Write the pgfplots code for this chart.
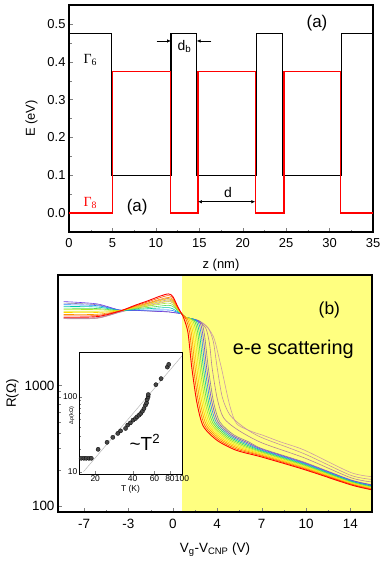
\documentclass[border=0pt]{standalone}
\usepackage{pgfplots}
\pgfplotsset{compat=1.18}
\usepackage{fontspec}
\setmainfont{Liberation Sans}
\newfontfamily\greekserif{Liberation Serif}
\usetikzlibrary{arrows.meta}
\definecolor{c0}{RGB}{255,0,0}
\definecolor{c1}{RGB}{255,80,0}
\definecolor{c2}{RGB}{255,150,0}
\definecolor{c3}{RGB}{255,210,0}
\definecolor{c4}{RGB}{235,235,30}
\definecolor{c5}{RGB}{170,230,40}
\definecolor{c6}{RGB}{80,220,80}
\definecolor{c7}{RGB}{0,200,170}
\definecolor{c8}{RGB}{30,130,255}
\definecolor{c9}{RGB}{110,60,230}
\definecolor{c10}{RGB}{140,120,160}
\definecolor{c11}{RGB}{180,130,150}
\definecolor{c12}{RGB}{195,145,160}
\definecolor{c13}{RGB}{205,155,165}
\definecolor{yel}{RGB}{255,255,128}
\begin{document}
\begin{tikzpicture}
\path[use as bounding box] (0,0) rectangle (386bp,-564bp);
% ---------------- top panel ----------------
\begin{axis}[at={(69bp,-232bp)}, anchor=south west, scale only axis,
  width=304bp, height=227bp,
  xmin=0, xmax=35, ymin=-0.05, ymax=0.55,
  xtick={0,5,10,15,20,25,30,35}, ytick={0,0.1,0.2,0.3,0.4,0.5},
  minor x tick num=1, minor y tick num=1,
  tick align=inside, xtick pos=bottom, ytick pos=left,
  major tick length=4bp, minor tick length=2.5bp,
  axis line style={line width=1.2pt},
  /pgf/number format/assume math mode=true,
  yticklabel style={/pgf/number format/.cd, fixed, fixed zerofill, precision=1},
  ticklabel style={font=\fontsize{13}{13}\selectfont},
  xticklabel style={yshift=-3bp},
  label style={font=\fontsize{13}{13}\selectfont},
  xlabel={z (nm)}, ylabel={E (eV)},
  xlabel style={yshift=-5bp}, ylabel shift=3bp,
  clip=false]
\addplot[black, line width=1.2pt] coordinates {(0,0.475)(4.85,0.475)(4.85,0.1)(11.75,0.1)(11.75,0.475)(14.7,0.475)(14.7,0.1)(21.55,0.1)(21.55,0.475)(24.6,0.475)(24.6,0.1)(31.4,0.1)(31.4,0.475)(35,0.475)};
\addplot[red, line width=1.2pt] coordinates {(0,0)(5.0,0)(5.0,0.375)(11.65,0.375)(11.65,0)(14.85,0)(14.85,0.375)(21.45,0.375)(21.45,0)(24.75,0)(24.75,0.375)(31.25,0.375)(31.25,0)(35,0)};
\draw[-{Latex[length=4bp,width=3.5bp]}, line width=0.7pt] (axis cs:10.1,0.455) -- (axis cs:11.75,0.455);
\draw[-{Latex[length=4bp,width=3.5bp]}, line width=0.7pt] (axis cs:16.4,0.455) -- (axis cs:14.7,0.455);
\draw[{Latex[length=4bp,width=3.5bp]}-{Latex[length=4bp,width=3.5bp]}, line width=0.7pt] (axis cs:14.85,0.03) -- (axis cs:21.45,0.03);
\node[font=\fontsize{14}{14}\selectfont] at (axis cs:13.3,0.44) {d\textsubscript{b}};
\node[font=\fontsize{14}{14}\selectfont] at (axis cs:18.3,0.055) {d};
\node[font=\fontsize{17}{17}\selectfont] at (axis cs:28.55,0.503) {(a)};
\node[font=\fontsize{17}{17}\selectfont] at (axis cs:7.85,0.015) {(a)};
\node[font=\fontsize{14}{14}\selectfont\greekserif] at (axis cs:2.45,0.405) {Γ\textsubscript{6}};
\node[font=\fontsize{14}{14}\selectfont\greekserif, text=red] at (axis cs:2.45,0.026) {Γ\textsubscript{8}};
\end{axis}
% ---------------- bottom panel ----------------
\begin{axis}[at={(58bp,-512bp)}, anchor=south west, scale only axis,
  width=314bp, height=237bp,
  xmin=-9.05, xmax=15.7, ymode=log, ymin=89, ymax=8300,
  xtick={-7,-3.5,0,3.5,7,10.5,14}, xticklabels={-7,-3,0,4,7,10,14},
  ytick={100,1000}, yticklabels={100,1000},
  minor x tick num=1,
  tick align=inside, xtick pos=bottom, ytick pos=left,
  major tick length=4bp, minor tick length=2.5bp,
  axis line style={line width=1.2pt}, axis on top,
  ticklabel style={font=\fontsize{13.5}{13.5}\selectfont},
  xticklabel style={yshift=-4bp},
  label style={font=\fontsize{13.5}{13.5}\selectfont},
  xlabel={V\textsubscript{g}-V\textsubscript{CNP} (V)}, ylabel={R(Ω)},
  ylabel style={yshift=-1bp}, xlabel style={yshift=-7bp},
  every axis plot/.append style={smooth, tension=0.45, line width=0.6pt}]
\fill[yel] (axis cs:0.7,89) rectangle (axis cs:15.7,8300);
\addplot[c13] coordinates {(-8.6,3600)(-6,3620)(-4.2,4060)(-3,4350)(-2,4600)(-1,4850)(-0.35,5000)(0,4850)(0.4,4250)(0.7,3950)(1.0,3700)(2.4,3300)(3.2,2550)(3.7,1600)(3.9,1300)(4.5,675)(5.05,480)(6.35,410)(7,390)(8.5,340)(10.4,290)(14,190)(15.7,175)};
\addplot[c12] coordinates {(-8.6,3620)(-6,3640)(-4.2,4080)(-3,4400)(-2,4700)(-1,5000)(-0.35,5150)(0,4950)(0.4,4300)(0.7,3950)(1.0,3700)(2.2,3350)(2.8,3000)(3.2,2300)(3.5,1400)(3.9,800)(4.5,570)(5.6,450)(7,370)(10.4,270)(14,180)(15.7,166)};
\addplot[c11] coordinates {(-8.6,3650)(-6,3660)(-4.2,4100)(-3,4450)(-2,4800)(-1,5150)(-0.35,5300)(0,5050)(0.4,4350)(0.7,3950)(1.0,3700)(2.0,3400)(2.6,3000)(2.9,2200)(3.1,1400)(3.5,780)(4.0,540)(5.1,430)(7,335)(10.4,250)(14,172)(15.7,158)};
\addplot[c10] coordinates {(-8.6,4850)(-6,4700)(-4.2,4240)(-3,4210)(-2,4170)(-1,4120)(-0.35,4100)(0,4050)(0.4,4000)(0.7,3950)(1.0,3700)(2.2,3400)(2.5,2620)(2.8,1400)(3.2,740)(3.7,500)(4.8,390)(6,340)(7,300)(10.4,230)(14,165)(15.7,150)};
\addplot[c9] coordinates {(-8.6,4990)(-6,4780)(-4.2,4250)(-3,4220)(-2,4180)(-1,4130)(-0.35,4100)(0,4050)(0.4,4000)(0.7,3950)(1.0,3700)(2.07,3420)(2.37,2630)(2.67,1400)(3.07,738)(3.57,496)(4.67,386)(5.9,335)(7,296)(10.4,227)(14,164)(15.7,149)};
\addplot[c8] coordinates {(-8.6,4700)(-6,4620)(-4.2,4230)(-3,4240)(-2,4240)(-1,4250)(-0.35,4250)(0,4200)(0.4,4050)(0.7,3950)(1.0,3700)(1.94,3440)(2.24,2650)(2.54,1400)(2.94,736)(3.44,492)(4.54,382)(5.8,330)(7,291)(10.4,224)(14,162)(15.7,147)};
\addplot[c7] coordinates {(-8.6,4550)(-6,4500)(-4.2,4220)(-3,4290)(-2,4350)(-1,4420)(-0.35,4450)(0,4350)(0.4,4100)(0.7,3950)(1.0,3700)(1.81,3460)(2.11,2660)(2.41,1400)(2.81,734)(3.31,488)(4.41,378)(5.7,325)(7,287)(10.4,221)(14,161)(15.7,146)};
\addplot[c6] coordinates {(-8.6,4400)(-6,4370)(-4.2,4210)(-3,4340)(-2,4450)(-1,4580)(-0.35,4650)(0,4550)(0.4,4200)(0.7,3950)(1.0,3700)(1.68,3480)(1.98,2680)(2.28,1400)(2.68,732)(3.18,484)(4.28,374)(5.6,320)(7,282)(10.4,218)(14,159)(15.7,144)};
\addplot[c5] coordinates {(-8.6,4300)(-6,4280)(-4.2,4200)(-3,4400)(-2,4560)(-1,4750)(-0.35,4850)(0,4700)(0.4,4250)(0.7,3950)(1.0,3700)(1.55,3500)(1.85,2700)(2.15,1400)(2.55,730)(3.05,480)(4.15,370)(5.5,315)(7,278)(10.4,215)(14,158)(15.7,143)};
\addplot[c4] coordinates {(-8.6,4150)(-6,4150)(-4.2,4190)(-3,4450)(-2,4660)(-1,4920)(-0.35,5050)(0,4900)(0.4,4300)(0.7,3950)(1.0,3700)(1.42,3520)(1.72,2710)(2.02,1400)(2.42,728)(2.92,476)(4.02,366)(5.4,310)(7,273)(10.4,212)(14,156)(15.7,142)};
\addplot[c3] coordinates {(-8.6,4050)(-6,4050)(-4.2,4180)(-3,4500)(-2,4770)(-1,5090)(-0.35,5250)(0,5050)(0.4,4350)(0.7,3950)(1.0,3700)(1.29,3540)(1.59,2730)(1.89,1400)(2.29,726)(2.79,472)(3.89,362)(5.3,305)(7,269)(10.4,209)(14,155)(15.7,140)};
\addplot[c2] coordinates {(-8.6,3900)(-6,3910)(-4.2,4170)(-3,4540)(-2,4850)(-1,5220)(-0.35,5400)(0,5200)(0.4,4400)(0.7,3950)(1.16,3560)(1.46,2740)(1.76,1400)(2.16,724)(2.66,468)(3.76,358)(5.2,300)(7,264)(10.4,206)(14,153)(15.7,139)};
\addplot[c1] coordinates {(-8.6,3800)(-6,3820)(-4.2,4160)(-3,4590)(-2,4950)(-1,5380)(-0.35,5600)(0,5350)(0.4,4450)(0.7,3950)(1.03,3580)(1.33,2760)(1.63,1400)(2.03,722)(2.53,464)(3.63,354)(5.1,295)(7,260)(10.4,203)(14,152)(15.7,137)};
\addplot[c0, line width=0.9pt] coordinates {(-8.6,3700)(-6,3740)(-4.2,4150)(-3,4640)(-2,5050)(-1,5540)(-0.35,5780)(0,5500)(0.4,4500)(0.7,3950)(0.9,3550)(1.2,2730)(1.5,1400)(1.9,720)(2.4,460)(3.5,350)(5,290)(7,255)(10.4,200)(14,150)(15.7,136)};
\node[font=\fontsize{17.5}{17.5}\selectfont] at (axis cs:12.34,4260) {(b)};
\node[font=\fontsize{20}{20}\selectfont] at (axis cs:9.5,2018) {e-e scattering};
\end{axis}
% ---------------- inset ----------------
\begin{axis}[at={(79bp,-474bp)}, anchor=south west, scale only axis,
  width=103bp, height=122bp,
  xmode=log, ymode=log, xmin=14.8, xmax=100, ymin=9.3, ymax=400,
  xtick={20,40,60,80,100}, xticklabels={20,40,60,80,100},
  ytick={10,100}, yticklabels={10,100},
  tick align=inside, xtick pos=bottom, ytick pos=left,
  major tick length=3bp, minor tick length=1.8bp,
  axis line style={line width=0.9pt},
  axis background/.style={fill=white},
  ticklabel style={font=\fontsize{8.5}{8.5}\selectfont},
  xticklabel style={inner sep=1.5pt},
  yticklabel style={inner sep=1.5pt},
  xlabel={T (K)}, ylabel={Δρ(kΩ)},
  xlabel style={font=\fontsize{8.5}{8.5}\selectfont, yshift=1bp},
  ylabel style={font=\fontsize{5.5}{5.5}\selectfont, at={(axis description cs:-0.07,0.48)}, anchor=center},
  clip=false]
\addplot[gray!55, line width=0.5pt] coordinates {(16.1,10)(100,355)};
\addplot[only marks, mark=*, mark size=2.1bp, mark options={fill=black!72, draw=black, line width=0.3pt}] coordinates {(15.4,15.1)(16.2,15.1)(16.9,15.1)(17.8,15.1)(18.6,15.1)(21.1,19.9)(24.9,24.7)(27.7,28.8)(30.4,32.5)(32.0,35.2)(35.1,37.9)(36.5,42)(38.4,45)(40.3,48.9)(42.2,51.5)(43.4,54.1)(45.1,57)(46.5,60.1)(48.0,64.4)(49.4,70)(50.8,77.5)(51.8,83.2)(52.4,92.3)(53.3,100)(53.5,107.7)(61.6,146)(67.8,176)(76.2,251)(78.2,273)};
\node[font=\fontsize{19}{19}\selectfont] at (axis description cs:0.64,0.26) {\textasciitilde T\textsuperscript{2}};
\end{axis}
\end{tikzpicture}
\end{document}
